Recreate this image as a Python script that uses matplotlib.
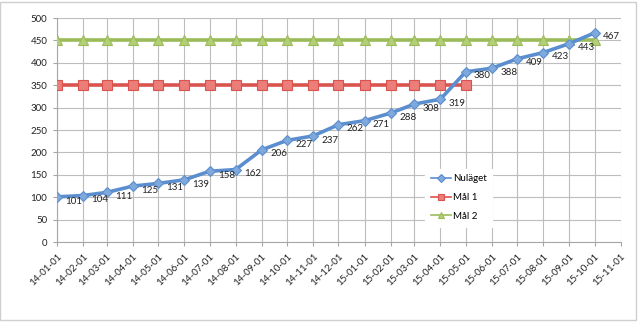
import datetime as dt
import matplotlib
matplotlib.use("Agg")
import matplotlib.pyplot as plt
import matplotlib.dates as mdates
from matplotlib.patches import Rectangle

plt.rcParams["font.family"] = ["Lato", "DejaVu Sans"]

# monthly readings
nulaget = [101, 104, 111, 125, 131, 139, 158, 162, 206, 227, 237,
           262, 271, 288, 308, 319, 380, 388, 409, 423, 443, 467]
mal1 = [350] * 17
mal2 = [450] * 22

months = [dt.date(2014 + (m // 12), m % 12 + 1, 1) for m in range(23)]

fig = plt.figure(figsize=(6.4, 3.22), dpi=100)
fig.patches.append(Rectangle((0.0, 0.006), 0.994, 0.988, transform=fig.transFigure,
                             fill=False, edgecolor="#cfcfcf", linewidth=1.0))
ax = fig.add_axes([0.089, 0.248, 0.881, 0.696])

ax.plot(months[:len(nulaget)], nulaget, color="#5b8ecf", linewidth=2.6,
        marker="D", markersize=5.5, markerfacecolor="#7fa8dc",
        markeredgecolor="#5b8ecf", markeredgewidth=0.8, label="Nuläget", zorder=4)
ax.plot(months[:len(mal1)], mal1, color="#d9534f", linewidth=2.6,
        marker="s", markersize=7, markerfacecolor="#ec7d78",
        markeredgecolor="#d9534f", markeredgewidth=0.8, label="Mål 1", zorder=3)
ax.plot(months[:len(mal2)], mal2, color="#9bbb59", linewidth=2.6,
        marker="^", markersize=7, markerfacecolor="#b3cf78",
        markeredgecolor="#9bbb59", markeredgewidth=0.8, label="Mål 2", zorder=3)

for d, v in zip(months, nulaget):
    ax.annotate(str(v), (mdates.date2num(d), v), xytext=(6, -3),
                textcoords="offset points", fontsize=7, va="center", ha="left",
                color="#222222", zorder=5)

ax.set_xlim(mdates.date2num(months[0]), mdates.date2num(months[-1]))
ax.set_ylim(0, 500)
ax.set_yticks(range(0, 501, 50))
ax.set_xticks([mdates.date2num(d) for d in months])
ax.xaxis.set_major_formatter(mdates.DateFormatter("%y-%m-%d"))
plt.setp(ax.get_xticklabels(), rotation=45, ha="right", va="top",
         rotation_mode="anchor")
ax.tick_params(axis="both", labelsize=7, labelcolor="#222222", color="#a6a6a6",
               length=3, width=0.8, direction="out")
ax.tick_params(axis="x", pad=4)
ax.tick_params(axis="y", pad=4)

ax.grid(True, color="#bdbdbd", linewidth=0.8)
ax.set_axisbelow(True)
for s in ("top", "right"):
    ax.spines[s].set_visible(False)
ax.spines["left"].set_color("#a6a6a6")
ax.spines["bottom"].set_color("#a6a6a6")

leg = ax.legend(loc="upper left", bbox_to_anchor=(0.645, 0.35), fontsize=7,
                frameon=True, fancybox=False, framealpha=1.0, edgecolor="white",
                handlelength=2.0, handletextpad=0.2, labelspacing=1.0,
                borderpad=0.6)
for line in leg.get_lines():
    line.set_linewidth(1.2)
    line.set_markersize(4)

fig.savefig("out.png", dpi=100)
